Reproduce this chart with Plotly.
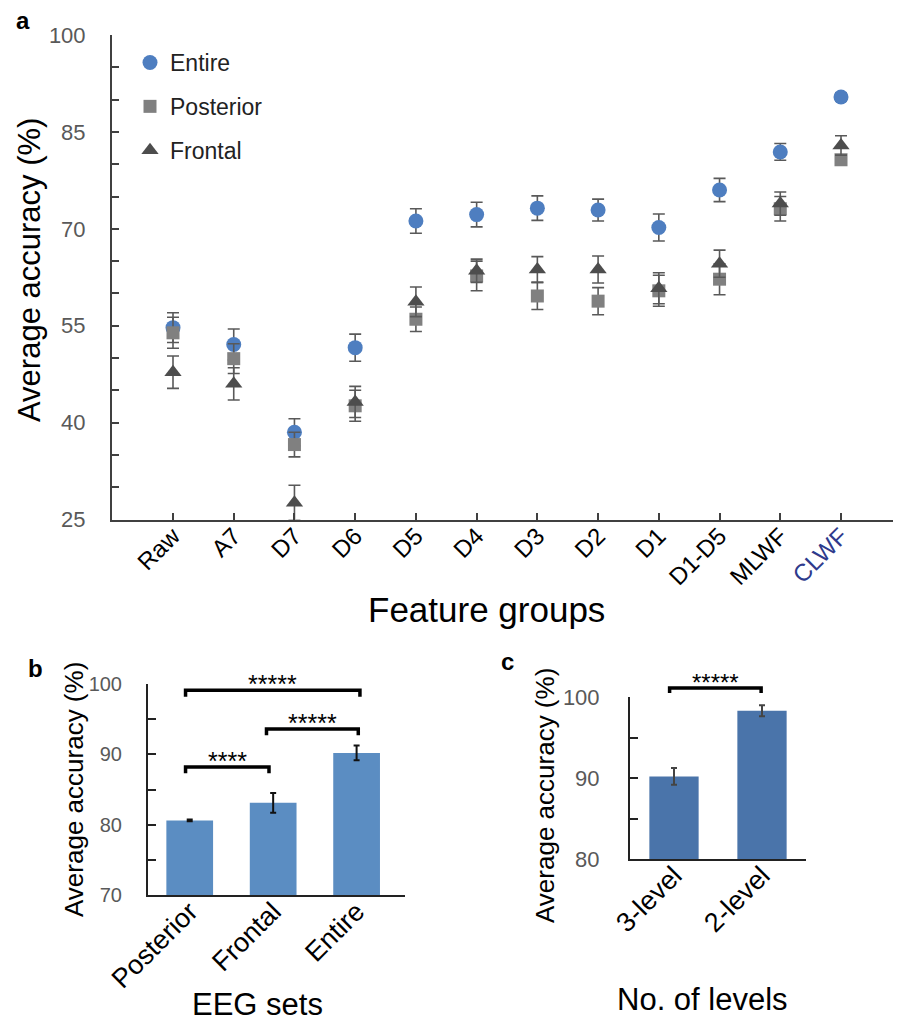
import plotly.graph_objects as go

W, H = 901, 1023          # page size of the reference
OFF = 8                   # default page margin around the figure
FW, FH = W - OFF, H - OFF
FONT = "Liberation Sans, Arial, Helvetica, sans-serif"

# ---------------- data: panel a ----------------
groups = ["Raw", "A7", "D7", "D6", "D5", "D4", "D3", "D2", "D1", "D1-D5", "MLWF", "CLWF"]
entire = [54.7, 52.1, 38.5, 51.6, 71.2, 72.2, 73.2, 72.9, 70.2, 76.0, 81.9, 90.4]
entire_err = [2.3, 2.4, 2.1, 2.1, 1.9, 1.9, 1.9, 1.7, 2.1, 1.8, 1.3, 0.6]
posterior = [53.9, 49.9, 36.6, 42.6, 56.0, 62.7, 59.6, 58.8, 60.4, 62.2, 73.1, 80.7]
posterior_err = [2.4, 2.3, 1.9, 2.4, 1.9, 2.3, 2.1, 2.1, 2.4, 2.4, 1.9, 0.3]
frontal = [47.8, 46.0, 27.6, 43.2, 58.7, 63.5, 63.7, 63.7, 60.8, 64.6, 73.9, 82.9]
frontal_err = [2.5, 2.5, 2.7, 2.4, 2.3, 1.8, 2.0, 2.1, 2.4, 2.1, 1.8, 1.5]
a_yticks = [25, 40, 55, 70, 85, 100]

# ---------------- data: panel b ----------------
eeg_sets = ["Posterior", "Frontal", "Entire"]
eeg_acc = [80.6, 83.1, 90.2]
eeg_err = [0.12, 1.4, 1.05]
b_pair_x0 = [-0.05, 0.92, -0.05]
b_pair_x1 = [0.95, 2.02, 2.04]
b_pair_y = [88.2, 93.6, 99.1]
b_pair_text = ["****", "*****", "*****"]
b_yticks = [70, 80, 90, 100]

# ---------------- data: panel c ----------------
levels = ["3-level", "2-level"]
level_acc = [90.2, 98.3]
level_err = [1.03, 0.68]
c_pair_x0 = [-0.05]
c_pair_x1 = [0.99]
c_pair_y = [101.1]
c_pair_text = ["*****"]
c_yticks = [80, 90, 100]

# ---------------- figure ----------------
fig = go.Figure()

ERR = "#595959"
fig.add_trace(go.Scatter(
    x=groups, y=entire, mode="markers", name="Entire", legendgroup="e",
    marker=dict(symbol="circle", size=15, color="#4E7EC0"),
    error_y=dict(type="data", array=entire_err, color=ERR, thickness=1.6, width=6),
    xaxis="x", yaxis="y"))
fig.add_trace(go.Scatter(
    x=groups, y=posterior, mode="markers", name="Posterior", legendgroup="p",
    marker=dict(symbol="square", size=13, color="#808080"),
    error_y=dict(type="data", array=posterior_err, color=ERR, thickness=1.6, width=6),
    xaxis="x", yaxis="y"))
fig.add_trace(go.Scatter(
    x=groups, y=frontal, mode="markers", name="Frontal", legendgroup="f",
    marker=dict(symbol="triangle-up", size=15, color="#4D4D4D"),
    error_y=dict(type="data", array=frontal_err, color=ERR, thickness=1.6, width=6),
    xaxis="x", yaxis="y"))

b_pos = list(range(len(eeg_sets)))
c_pos = list(range(len(levels)))

# panel b bars
fig.add_trace(go.Bar(
    x=b_pos, y=eeg_acc, width=0.56, marker=dict(color="#5B8DC2", line=dict(width=0)),
    error_y=dict(type="data", array=eeg_err, color="#111111", thickness=2, width=3),
    showlegend=False, xaxis="x2", yaxis="y2"))

# panel c bars
fig.add_trace(go.Bar(
    x=c_pos, y=level_acc, width=0.56, marker=dict(color="#4A74AA", line=dict(width=0)),
    error_y=dict(type="data", array=level_err, color="#444444", thickness=2, width=3),
    showlegend=False, xaxis="x3", yaxis="y3"))

# significance brackets
def add_brackets(x0s, x1s, ys, texts, xa, ya, drop, fsize):
    for x0, x1, yv, t in zip(x0s, x1s, ys, texts):
        fig.add_trace(go.Scatter(
            x=[x0, x0, x1, x1], y=[yv - drop, yv, yv, yv - drop], mode="lines",
            line=dict(color="black", width=3.5), showlegend=False, hoverinfo="skip",
            xaxis=xa, yaxis=ya))
        fig.add_annotation(x=(x0 + x1) / 2, y=yv, xref=xa, yref=ya, text=t,
                           showarrow=False, yanchor="bottom", yshift=-10,
                           font=dict(size=fsize, color="black", family=FONT))

add_brackets(b_pair_x0, b_pair_x1, b_pair_y, b_pair_text, "x2", "y2", 0.9, 25)
add_brackets(c_pair_x0, c_pair_x1, c_pair_y, c_pair_text, "x5", "y5", 0.6, 24)

# ---------------- axes ----------------
def py(pix):
    return min(1.0, max(0.0, 1 - (pix - OFF) / FH))

def px(pix):
    return min(1.0, max(0.0, (pix - OFF) / FW))

a_ticktext = [g if g != "CLWF" else '<span style="color:#2E3A8C">CLWF</span>' for g in groups]

axis_common = dict(showgrid=False, zeroline=False, showline=True, automargin=False)

# panel a category spacing (Raw tick at 173 px, CLWF tick at 841 px)
a_left, a_right = 112, 900
a_step = (841 - 173) / (len(groups) - 1)
a_range = [(a_left - 173) / a_step, (a_right - 173) / a_step]

b_range = [-0.5, 2.58]
c_range = [-0.5, 1.5]

layout_axes = dict(
    xaxis=dict(axis_common, domain=[px(a_left), px(a_right)], anchor="y", type="category",
               range=a_range, tickmode="array", tickvals=groups, ticktext=a_ticktext,
               ticks="inside", ticklen=7, tickwidth=1.5, tickcolor="#404040",
               linecolor="#404040", linewidth=2, tickangle=-45, ticklabelstandoff=-9,
               tickfont=dict(size=24, color="black", family=FONT)),
    yaxis=dict(axis_common, domain=[py(519.5), py(35)], anchor="x", range=[25, 100],
               tickmode="array", tickvals=a_yticks, ticks="inside", ticklen=7,
               tickwidth=1.5, tickcolor="#404040", linecolor="#404040", linewidth=2,
               ticklabelstandoff=20,
               minor=dict(dtick=5, tick0=25, ticks="inside", ticklen=7, tickwidth=1.5,
                          tickcolor="#404040", showgrid=False),
               tickfont=dict(size=22, color="#595959", family=FONT)),
    xaxis2=dict(axis_common, domain=[px(148), px(405)], anchor="y2",
                range=b_range, tickmode="array", tickvals=b_pos, ticktext=eeg_sets,
                ticks="", linecolor="#222222", linewidth=2, ticklabelstandoff=-12,
                tickangle=-45, tickfont=dict(size=27, color="black", family=FONT)),
    yaxis2=dict(axis_common, domain=[py(895), py(684)], anchor="x2", range=[70, 100],
                tickmode="array", tickvals=b_yticks, ticks="inside", ticklen=8,
                tickwidth=1.5, tickcolor="#222222", linecolor="#222222", linewidth=2,
                ticklabelstandoff=20,
                minor=dict(dtick=5, tick0=70, ticks="inside", ticklen=8, tickwidth=1.5,
                           tickcolor="#222222", showgrid=False),
                tickfont=dict(size=20, color="#595959", family=FONT)),
    xaxis3=dict(axis_common, domain=[px(630), px(806)], anchor="y3",
                range=c_range, tickmode="array", tickvals=c_pos, ticktext=levels,
                ticks="", linecolor="#222222", linewidth=2, ticklabelstandoff=-12,
                tickangle=-45, tickfont=dict(size=27, color="black", family=FONT)),
    yaxis3=dict(axis_common, domain=[py(859), py(697)], anchor="x3", range=[80, 100],
                tickmode="array", tickvals=c_yticks, ticks="inside", ticklen=8,
                tickwidth=1.5, tickcolor="#222222", linecolor="#222222", linewidth=2,
                ticklabelstandoff=24,
                minor=dict(dtick=5, tick0=80, ticks="inside", ticklen=8, tickwidth=1.5,
                           tickcolor="#222222", showgrid=False),
                tickfont=dict(size=22, color="#595959", family=FONT)),
)
# hidden axes sharing panel c's scale but extending above it (for the bracket)
c_top_pix = 655
c_range_top = 80 + (859 - c_top_pix) / (859 - 697) * 20
layout_axes["xaxis5"] = dict(domain=[px(630), px(806)], anchor="y5", range=c_range,
                             visible=False, automargin=False)
layout_axes["yaxis5"] = dict(domain=[py(859), py(c_top_pix)], anchor="x5",
                             range=[80, c_range_top], visible=False, automargin=False)

fig.update_layout(**layout_axes)

# ---------------- titles / panel letters ----------------
def label(text, x, y, size, angle=0, bold=False, color="black"):
    fig.add_annotation(x=px(x), y=py(y), xref="paper", yref="paper",
                       text=f"<b>{text}</b>" if bold else text, textangle=angle,
                       showarrow=False, xanchor="center", yanchor="middle",
                       font=dict(size=size, color=color, family=FONT))

label("a", 23, 20, 24, bold=True)
label("b", 35, 668, 24, bold=True)
label("c", 507, 661, 24, bold=True)
label("Average accuracy (%)", 29, 270, 31, angle=-90)
label("Feature groups", 487, 609, 35)
label("Average accuracy (%)", 74, 790, 26, angle=-90)
label("EEG sets", 257, 1004, 31)
label("Average accuracy (%)", 545, 796, 26, angle=-90)
label("No. of levels", 702, 999, 31)

fig.update_layout(
    width=FW, height=FH, autosize=False,
    margin=dict(l=0, r=0, t=0, b=0, autoexpand=False),
    paper_bgcolor="white", plot_bgcolor="rgba(0,0,0,0)",
    font=dict(family=FONT),
    showlegend=True,
    legend=dict(x=px(130), y=py(41), xanchor="left", yanchor="top",
                bgcolor="rgba(0,0,0,0)", font=dict(size=23, color="#222222", family=FONT),
                tracegroupgap=11, itemwidth=30),
)

fig.write_html("out.html")
